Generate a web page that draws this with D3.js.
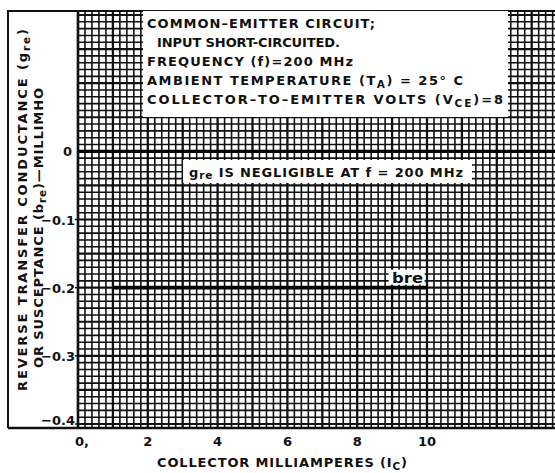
<!DOCTYPE html>
<html lang="en">
<head>
    <meta charset="UTF-8">
    <title>Reverse transfer conductance vs collector current</title>
    <script src="https://cdnjs.cloudflare.com/ajax/libs/d3/7.8.5/d3.min.js"></script>
    <style>
        body { margin: 0; background: #fff; }
        svg { display: block; }
        text { font-family: "DejaVu Sans", "Liberation Sans", sans-serif; font-weight: bold; fill: #111; }
    </style>
</head>
<body>
    <div id="chart"></div>

    <script>
        // Values
        const xTicks = [0, 2, 4, 6, 8, 10];
        const xTickLabels = ["0,", "2", "4", "6", "8", "10"];
        const yTicks = [0, -0.1, -0.2, -0.3, -0.4];
        const yTickLabels = ["0", "\u22120.1", "\u22120.2", "\u22120.3", "\u22120.4"];

        // b_re curve (flat at -0.2 millimho from 1 to 10 mA)
        const collectorMA = [1, 10];
        const bre = [-0.2, -0.2];

        // note lines: [text, subscript?] pieces and the width each spans on the sheet
        const noteLines = [
            [["COMMON\u2013EMITTER CIRCUIT;"]],
            [["INPUT SHORT-CIRCUITED."]],
            [["FREQUENCY (f)=200 MHz"]],
            [["AMBIENT TEMPERATURE (T"], ["A", "sub"], [") = 25\u00b0 C"]],
            [["COLLECTOR\u2013TO\u2013EMITTER VOLTS (V"], ["CE", "sub"], [")=8"]]
        ];
        const noteWidths = [228, 183, 206, 316, 356];

        const width = 555;
        const height = 473;
        const plot = {left: 78, top: 11, bottom: 428};

        const svg = d3.select("#chart")
            .append("svg")
            .attr("width", width)
            .attr("height", height);

        const x = d3.scaleLinear().domain([0, 14]).range([plot.left, plot.left + 14 * 34.9]);
        const y = d3.scaleLinear().domain([0.2, -0.4]).range([plot.top + 4, 424]);
        const yTop = y.invert(plot.top);
        const yBottom = y.invert(plot.bottom);

        // writes pieces into a text element, dropping subscripts a little
        function richText(t, parts, sub) {
            parts.forEach((p, i) => {
                const s = t.append("tspan").text(p[0]);
                if (p[1] === "sub") s.attr("dy", sub).attr("font-size", 10.5);
                else if (i > 0) s.attr("dy", -sub);
            });
            return t;
        }

        // graph paper grid
        const grid = svg.append("g");
        const vLines = d3.range(0, 70.5).map(i => i * 0.2);
        const hLines = d3.range(Math.ceil(yBottom * 100), Math.floor(yTop * 100) + 1).map(i => i / 100);

        grid.selectAll(".v")
            .data(vLines)
            .enter().append("line")
            .attr("x1", d => x(d)).attr("x2", d => x(d))
            .attr("y1", plot.top).attr("y2", plot.bottom)
            .attr("stroke", "#111")
            .attr("stroke-width", (d, i) => i % 5 === 0 ? 2.3 : 1.6);

        grid.selectAll(".h")
            .data(hLines)
            .enter().append("line")
            .attr("x1", plot.left).attr("x2", width)
            .attr("y1", d => y(d)).attr("y2", d => y(d))
            .attr("stroke", "#111")
            .attr("stroke-width", d => Math.round(d * 100) % 5 === 0 ? 2.1 : 1.6);

        // zero line
        svg.append("line")
            .attr("x1", plot.left).attr("x2", width)
            .attr("y1", y(0)).attr("y2", y(0))
            .attr("stroke", "#000").attr("stroke-width", 3.4);

        // outer frame
        svg.append("path")
            .attr("d", `M8,${plot.bottom} V${plot.top} H${width}`)
            .attr("fill", "none").attr("stroke", "#111").attr("stroke-width", 2);
        svg.append("line")
            .attr("x1", 8).attr("x2", width)
            .attr("y1", plot.bottom).attr("y2", plot.bottom)
            .attr("stroke", "#111").attr("stroke-width", 2.4);
        svg.append("line")
            .attr("x1", plot.left).attr("x2", plot.left)
            .attr("y1", plot.top).attr("y2", plot.bottom)
            .attr("stroke", "#111").attr("stroke-width", 2.4);

        // the b_re line
        const line = d3.line().x(d => x(d[0])).y(d => y(d[1]));
        svg.append("path")
            .datum(collectorMA.map((c, i) => [c, bre[i]]))
            .attr("d", line)
            .attr("fill", "none")
            .attr("stroke", "#000")
            .attr("stroke-width", 3.8);

        // b_re label
        svg.append("rect")
            .attr("x", x(8.9)).attr("y", y(-0.2) - 18)
            .attr("width", 36).attr("height", 15)
            .attr("fill", "#fff");
        svg.append("text")
            .attr("x", x(9.0)).attr("y", y(-0.2) - 5)
            .attr("font-size", 14)
            .attr("textLength", 31)
            .attr("lengthAdjust", "spacingAndGlyphs")
            .text("bre");

        // condition note box
        svg.append("rect")
            .attr("x", 143).attr("y", plot.top)
            .attr("width", 365).attr("height", 106)
            .attr("fill", "#fff");

        const note = svg.append("g");
        noteLines.forEach((parts, i) => {
            const t = note.append("text")
                .attr("x", i === 1 ? 157 : 147)
                .attr("y", 28 + i * 19)
                .attr("font-size", 13)
                .attr("textLength", noteWidths[i])
                .attr("lengthAdjust", "spacing");
            richText(t, parts, 3);
        });

        // g_re note box
        svg.append("rect")
            .attr("x", 183).attr("y", 160)
            .attr("width", 289).attr("height", 23)
            .attr("fill", "#fff");
        const gNote = svg.append("text")
            .attr("x", 189).attr("y", 177)
            .attr("font-size", 13)
            .attr("textLength", 274)
            .attr("lengthAdjust", "spacing");
        richText(gNote, [["g"], ["re", "sub"], [" IS NEGLIGIBLE AT f = 200 MHz"]], 2);

        // x axis labels
        svg.selectAll(".xt")
            .data(xTicks)
            .enter().append("text")
            .attr("x", d => x(d) + (d === 0 ? 4 : 0))
            .attr("y", 446)
            .attr("text-anchor", "middle")
            .attr("font-size", 13)
            .text((d, i) => xTickLabels[i]);

        const xTitle = svg.append("text")
            .attr("x", 157).attr("y", 467)
            .attr("font-size", 13)
            .attr("textLength", 250)
            .attr("lengthAdjust", "spacing");
        richText(xTitle, [["COLLECTOR MILLIAMPERES (I"], ["C", "sub"], [")"]], 3);

        // y axis labels and ticks
        svg.selectAll(".yt")
            .data(yTicks)
            .enter().append("text")
            .attr("x", d => d === 0 ? 72 : 75)
            .attr("y", d => y(d) + (d === -0.4 ? 1 : 5))
            .attr("text-anchor", "end")
            .attr("font-size", 13)
            .text((d, i) => yTickLabels[i]);
        svg.selectAll(".ytick")
            .data(yTicks.slice(1))
            .enter().append("line")
            .attr("x1", 75).attr("x2", plot.left)
            .attr("y1", d => y(d)).attr("y2", d => y(d))
            .attr("stroke", "#111").attr("stroke-width", 1.5);

        const yTitle1 = svg.append("text")
            .attr("transform", "translate(27,391) rotate(-90)")
            .attr("font-size", 13)
            .attr("textLength", 362)
            .attr("lengthAdjust", "spacing");
        richText(yTitle1, [["REVERSE TRANSFER CONDUCTANCE (g"], ["re", "sub"], [")"]], 3);

        const yTitle2 = svg.append("text")
            .attr("transform", "translate(43,368) rotate(-90)")
            .attr("font-size", 13)
            .attr("textLength", 280)
            .attr("lengthAdjust", "spacing");
        richText(yTitle2, [["OR SUSCEPTANCE (b"], ["re", "sub"], [")\u2014MILLIMHO"]], 3);
    </script>
</body>
</html>
